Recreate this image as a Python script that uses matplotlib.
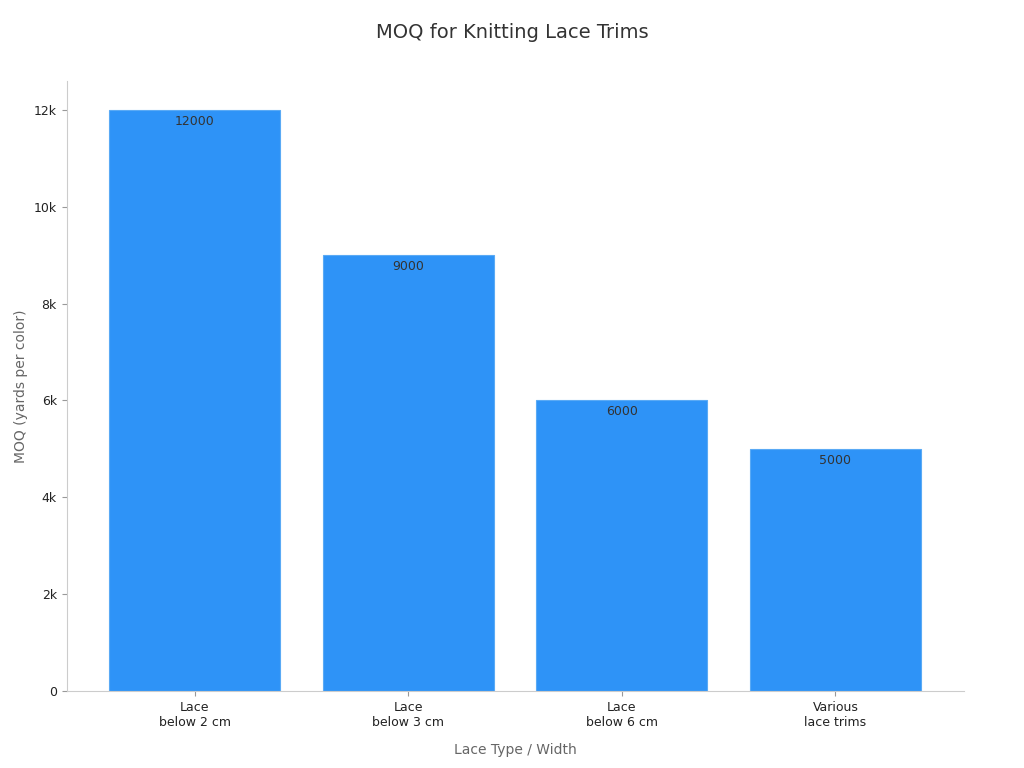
import matplotlib
matplotlib.use("Agg")
import matplotlib.pyplot as plt
from matplotlib.ticker import FuncFormatter

categories = ["Lace\nbelow 2 cm", "Lace\nbelow 3 cm", "Lace\nbelow 6 cm", "Various\nlace trims"]
values = [12000, 9000, 6000, 5000]
yticks = [0, 2000, 4000, 6000, 8000, 10000, 12000]

fig = plt.figure(figsize=(10.24, 7.68), dpi=100)
ax = fig.add_axes([0.065, 0.1, 0.876, 0.795])
bars = ax.bar(range(len(values)), values, width=0.8, color="#2e93f7", edgecolor="#5aaaf5", linewidth=0.8)
for i, v in enumerate(values):
    ax.text(i, v - 100, str(v), ha="center", va="top", fontsize=9, color="#333333")
ax.set_xticks(range(len(values)))
ax.set_xticklabels(categories, fontsize=9, color="#222222")
ax.set_yticks(yticks)
ax.yaxis.set_major_formatter(FuncFormatter(lambda v, p: "0" if v == 0 else f"{int(v/1000)}k"))
ax.tick_params(axis="y", labelsize=9, colors="#222222")
ax.tick_params(color="#999999")
ax.set_xlim(-0.6, 3.6)
ax.set_ylim(0, 12600)
for s in ["top", "right"]:
    ax.spines[s].set_visible(False)
for s in ["left", "bottom"]:
    ax.spines[s].set_color("#cccccc")
ax.set_xlabel("Lace Type / Width", fontsize=10, color="#666666", labelpad=10)
ax.set_ylabel("MOQ (yards per color)", fontsize=10, color="#666666")
fig.suptitle("MOQ for Knitting Lace Trims", fontsize=14, color="#333333", y=0.97)
fig.savefig("out.png")
